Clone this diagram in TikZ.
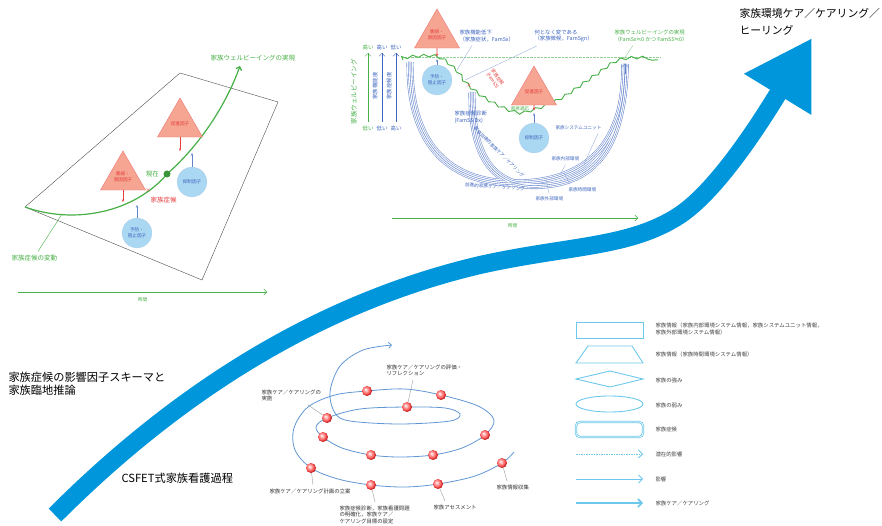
\documentclass[tikz,border=0pt]{standalone}
\usepackage{fontspec}
\setmainfont{Noto Sans CJK JP}
\newfontfamily\dejavu{DejaVu Sans}
\usetikzlibrary{arrows.meta,shapes.geometric,decorations.pathmorphing,positioning}
\definecolor{bandblue}{RGB}{0,150,220}
\definecolor{fgreen}{RGB}{70,175,70}
\definecolor{fblue}{RGB}{60,100,190}
\definecolor{fred}{RGB}{230,60,60}
\definecolor{salmon}{RGB}{245,165,145}
\definecolor{paleblue}{RGB}{170,215,242}
\definecolor{legblue}{RGB}{110,200,235}
\definecolor{spiral}{RGB}{95,150,210}
\pgfdeclareradialshading{pinkball}{\pgfqpoint{-9bp}{9bp}}{color(0bp)=(white);color(8bp)=(red!35!white);color(18bp)=(red!60!white);color(25bp)=(red!75!black!90);color(50bp)=(red!60!black)}
\newcommand{\approxeq}{{\dejavu ≒}}
\tikzset{
  t4/.style={font=\fontsize{4.6}{5.8}\selectfont},
  t5/.style={font=\fontsize{5.4}{6.8}\selectfont},
  t6/.style={font=\fontsize{6.5}{8}\selectfont},
  big/.style={font=\fontsize{11.2}{12.5}\selectfont,align=left},
  chev/.style={-{Straight Barb[length=3pt,width=6pt]}},
  risk/.style={regular polygon,regular polygon sides=3,draw=fred!70,fill=salmon,minimum size=38pt,inner sep=0pt,text=fred,t4,align=center},
  guard/.style={circle,draw=fblue!40,densely dotted,fill=paleblue,minimum size=30pt,inner sep=0pt,text=fblue,t4,align=center},
  down/.style={fred,thick,-{Stealth[length=3pt]}},
  up/.style={fblue!80,thick,-{Stealth[length=3pt]}},
  ballnode/.style={circle,shading=pinkball,minimum size=10pt,inner sep=0pt,font=\fontsize{3.5}{4}\selectfont,text=white},
  leader/.style={black!40,thin},
  lab/.style={t5,text=black!80,align=left},
  leg/.style={legblue,line width=0.9pt},
  legtext/.style={t5,anchor=west,text=black!75,align=left}
}
\begin{document}
\begin{tikzpicture}[x=1pt,y=-1pt]
\useasboundingbox (0,0) rectangle (882,526);
\draw[bandblue,line width=18pt,-{Triangle[length=66pt,width=74pt]}] (55,515) .. controls (170,400) and (310,305) .. (480,265) .. controls (570,245) and (630,248) .. (680,215) .. controls (720,188) and (765,115) .. (812,38);
\node[big,anchor=north west,font=\fontsize{10.8}{17}\selectfont] (healing) at (736,5) {家族環境ケア／ケアリング／\\ヒーリング};
\node[big,anchor=north west] (schema) at (5,369) {家族症候の影響因子スキーマと\\家族臨地推論};
\node[big,anchor=west] (csfet) at (118,478) {CSFET式家族看護過程};
% influence factor schema
\draw[black!70] (25,207) -- (180,73) -- (278,102) -- (202,280) -- cycle;
\draw[fgreen,line width=1.2pt,chev] (25,207) .. controls (75,225) and (135,212) .. (167,174) coordinate (now) .. controls (200,145) and (226,105) .. (240,66);
\node[circle,fill=fgreen!85!black,minimum size=7pt,inner sep=0pt] (nowdot) at (now) {};
\node[fgreen,t6,left=1pt of nowdot] (nowlab) {現在};
\node[fred,t5,inner sep=0pt] (sx) at (148,191) {×};
\node[fred,t6,anchor=west] (sxlab) at (147,200) {家族症候};
\node[fgreen,t6,anchor=west] (goal) at (207,58) {家族ウェルビーイングの実現};
\node[risk] (cause) at (123,177) {脆弱・\\原因因子};
\node[risk] (prom) at (180,124) {促進因子};
\node[guard] (prev) at (137,233) {予防・\\阻止因子};
\node[guard] (supp) at (192,182) {抑制因子};
\draw[down] (cause.south) -- ++(0,12) coordinate (causeend);
\draw[down] (prom.south) -- ++(0,14) coordinate (promend);
\draw[up] (prev.north) -- ++(0,-13) coordinate (prevend);
\draw[up] (supp.north) -- ++(0,-14) coordinate (suppend);
\node[fgreen,t6,anchor=west] (var) at (8,258) {家族症候の変動};
\coordinate (varpt) at (62,214);
\draw[fgreen] ([xshift=30pt]var.north west) -- (varpt);
\coordinate (ta) at (18,292);
\coordinate (tb) at (267,292);
\draw[fgreen,chev] (ta) -- (tb) node[midway,below=2pt,t4,fgreen] (tlab) {時間};
% family wellbeing course
\foreach \x/\col/\hi/\lo/\n in {368/fgreen/高い/低い/a,382/fblue/高い/低い/b,396/fblue/低い/高い/c}{
  \node[\col,t5] (lo\n) at (\x,128) {\lo};
  \node[\col,t5] (hi\n) at (\x,47) {\hi};
  \draw[\col,chev] (lo\n) -- (hi\n);
}
\node[fgreen,t6,rotate=90] (wbaxis) at (354,92) {家族ウェルビーイング};
\node[fblue,t5,rotate=90] (fnaxis) at (375,86) {家族機能度};
\node[fblue,t5,rotate=90] (sxaxis) at (389,86) {家族症候度};
\coordinate (dotl) at (405,57);
\coordinate (dotr) at (660,57);
\draw[fgreen!60,densely dotted] (dotl) -- (dotr);
\coordinate (bAs) at (410,62);
\coordinate (bAm) at (515,183);
\coordinate (bBs) at (472,92);
\coordinate (bBm) at (545,185);
\coordinate (bEnd) at (625,64);
\coordinate (bTail) at (625,74);
\foreach \w/\col in {7/fblue!70,5.8/white,4/fblue!70,2.8/white,0.6/fblue!70}{
  \draw[line width=\w pt,\col] (bBs) .. controls (471,165) and (500,190) .. (bBm) .. controls (600,180) and (624,140) .. (bEnd);
  \draw[line width=\w pt,\col] (bAs) .. controls (409,140) and (445,183) .. (bAm) .. controls (590,183) and (626,140) .. (bEnd);
}
\draw[fblue!80,-{Straight Barb[length=3pt,width=8pt]}] (bTail) -- (bEnd);
\draw[fgreen,line width=0.9pt,decorate,decoration={snake,amplitude=1.4pt,segment length=11pt}] plot[smooth,tension=0.6] coordinates {(403,60) (437,58) (457,71) (469,86) (490,102) (517,114) (534,112) (563,100) (597,77) (623,61) (658,60)};
\node[risk] (cause2) at (437,35) {脆弱・\\原因因子};
\node[guard] (prev2) at (437,80) {予防・\\阻止因子};
\coordinate (w1) at (437,58);
\draw[down,shorten >=1.5pt] (cause2.south) -- (w1);
\draw[up,shorten >=1pt] (prev2.north) -- (w1);
\node[risk] (prom2) at (534,92) {促進因子};
\node[guard] (supp2) at (534,138) {抑制因子};
\coordinate (w2) at (534,112);
\draw[down,shorten >=1.5pt] (prom2.south) -- (w2);
\draw[up,shorten >=1pt] (supp2.north) -- (w2);
\node[fblue,t5,anchor=west,align=left] (fnlow) at (456,36) {家族機能低下\\（家族症状，FamSx）};
\coordinate (fnpt) at (457,70);
\draw[fblue!50] ([xshift=16pt]fnlow.south west) -- (fnpt);
\node[fblue,t5,anchor=west,align=left] (sgn) at (531,36) {何となく変である\\（家族徴候，FamSgn）};
\coordinate (sgnpt) at (465,80);
\draw[fblue!50] ([xshift=6pt]sgn.south west) -- (sgnpt);
\node[fgreen,t5,anchor=west,align=left] (wbgoal) at (611,36) {家族ウェルビーイングの実現\\（FamSx\approxeq 0 かつ FamSS\approxeq 0）};
\coordinate (wbpt) at (623,60);
\draw[fgreen!60] ([xshift=22pt]wbgoal.south west) -- (wbpt);
\node[fred,t5,inner sep=0pt] (sx2) at (469,86) {×};
\node[fred,t4,rotate=-55,align=center,inner sep=0pt] (sx2lab) at (495,79) {家族症候\\(FamSS)};
\node[fgreen,t4] (adapt) at (520,109) {家族適応};
\node[fblue,t5,anchor=west,align=left] (dx) at (451,117) {家族症候診断\\(FamSS Dx)};
\node[fblue,t4,anchor=west] (unit) at (552,128) {家族システムユニット};
\coordinate (unitpt) at (584,164);
\draw[fblue!50] ([xshift=-7pt]unit.south east) -- (unitpt);
\node[fblue,t4,anchor=west] (inner) at (548,159) {家族内部環境};
\coordinate (innerpt) at (560,175);
\draw[fblue!50] (inner.south) -- (innerpt);
\node[fblue,t4,anchor=west] (timeenv) at (565,190) {家族時間環境};
\coordinate (timept) at (564,173);
\draw[fblue!50] ([xshift=5pt]timeenv.north west) -- (timept);
\node[fblue,t4,anchor=west] (outer) at (532,199) {家族外部環境};
\coordinate (outerpt) at (546,180);
\draw[fblue!50] ([xshift=17pt]outer.north west) -- (outerpt);
\node[fblue,t4,rotate=-4] (fwd) at (495,187) {前進的家族ケア／ケアリング};
\node[fblue,t4,rotate=-45] (inward) at (499,152) {家族自律的家族ケア／ケアリング};
\coordinate (tc) at (392,218);
\coordinate (td) at (638,218);
\draw[fgreen,chev] (tc) -- (td) node[pos=0.49,below=2pt,t4,fgreen] (tlab2) {時間};
% nursing process spiral
\draw[spiral,line width=0.8pt,chev] plot[smooth,tension=0.55] coordinates {(514,452) (502,463) (475,476) (438,484) (405,487) (371,485) (338,479) (311,468) (295,450) (294,428) (308,407) (335,395) (367,391) (405,389) (441,395) (478,406) (494,420) (485,435) (462,448) (433,455) (400,457) (371,455) (342,448) (323,437) (316,427) (327,418) (360,409) (407,407) (445,408) (460,414) (450,421) (400,424) (350,421) (335,413) (330,392) (340,366) (363,350) (392,345)};
\foreach \n/\x/\y/\k in {b1a/502/463/1,b2a/438/484/2,b3a/371/485/3,b4a/311/468/4,b5a/367/391/5,b6a/441/395/6,b1b/485/435/1,b2b/433/455/2,b3b/371/455/3,b4b/323/437/4,b5b/327/418/5,b6b/407/407/6}
  \node[ballnode] (\n) at (\x,\y) {\k};
\node[lab,anchor=west] (collect) at (493,487) {家族情報収集};
\node[lab,anchor=west] (assess) at (430,507) {家族アセスメント};
\node[lab,anchor=north west] (diag) at (336,502) {家族症候診断，家族看護問題\\の明確化，家族ケア／\\ケアリング目標の設定};
\node[lab,anchor=west] (plan) at (266,491) {家族ケア／ケアリング計画の立案};
\node[lab,anchor=north west] (impl) at (258,386) {家族ケア／ケアリングの\\実施};
\node[lab,anchor=north west] (evalr) at (383,361) {家族ケア／ケアリングの評価・\\リフレクション};
\draw[leader] (b1a) -- ([xshift=14pt]collect.north west);
\draw[leader] (b2a) -- ([xshift=15pt]assess.north west);
\draw[leader] (b3a) -- ([xshift=39pt]diag.north west);
\draw[leader] (b4a) -- ([xshift=47pt]plan.north west);
\draw[leader] (b5b) -- ([xshift=50pt]impl.south west);
\draw[leader] (b6b) -- ([xshift=30pt]evalr.south west);
% legend
\draw[leg] (576,322) rectangle (643,338);
\node[legtext] (lg1) at (652,329) {家族情報（家族内部環境システム情報，家族システムユニット情報，\\家族外部環境システム情報）};
\draw[leg] (576,363) -- (588,346) -- (632,346) -- (643,363) -- cycle;
\node[legtext] (lg2) at (652,354) {家族情報（家族時間環境システム情報）};
\draw[leg] (576,379) -- (610,371) -- (643,379) -- (610,387) -- cycle;
\node[legtext] (lg3) at (652,380) {家族の強み};
\draw[leg] (609.5,404) ellipse [x radius=33.5,y radius=8];
\node[legtext] (lg4) at (652,405) {家族の弱み};
\draw[legblue,double=white,double distance=0.7pt,line width=0.8pt,rounded corners=4pt] (576,422) rectangle (643,437);
\node[legtext] (lg5) at (652,429) {家族症候};
\draw[legblue,line width=0.8pt,dash pattern=on 1.5pt off 1pt,-{Straight Barb[length=4pt,width=8pt]}] (576,454) -- (643,454);
\node[legtext] (lg6) at (652,454) {潜在的影響};
\draw[legblue,line width=0.8pt,-{Straight Barb[length=4pt,width=8pt]}] (576,479) -- (643,479);
\node[legtext] (lg7) at (652,479) {影響};
\draw[legblue,line width=1.6pt,-{Straight Barb[length=4pt,width=8pt]}] (576,503) -- (643,503);
\node[legtext] (lg8) at (652,503) {家族ケア／ケアリング};
\end{tikzpicture}
\end{document}
